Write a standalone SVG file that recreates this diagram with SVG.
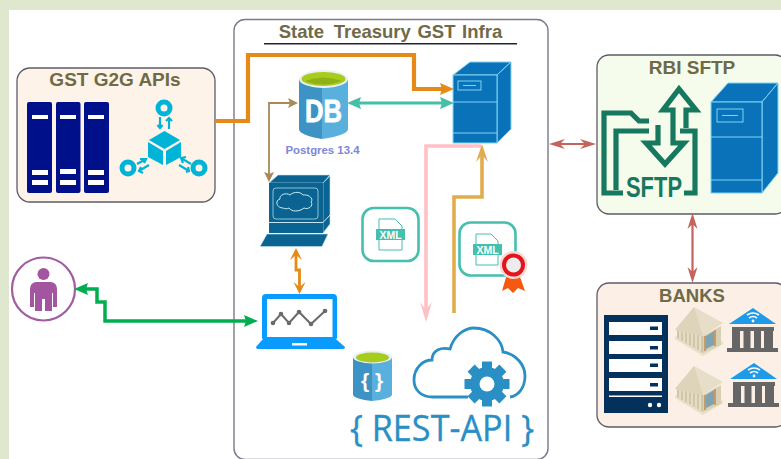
<svg xmlns="http://www.w3.org/2000/svg" xmlns:xlink="http://www.w3.org/1999/xlink" width="781" height="459" viewBox="0 0 781 459">
<style>
text{font-family:"Liberation Sans",Arial,sans-serif}
.box{stroke:#5c5c68;stroke-width:1.3}
.ttl{font-weight:bold;fill:#6f6a48;text-anchor:middle}
.conn{fill:none;stroke-linejoin:miter}
.srv{fill:#0a72b8;stroke:#7fd4f2;stroke-width:1}
.srvl{fill:none;stroke:#7fd4f2;stroke-width:1}
.xmlbox{fill:#fff;stroke:#45bfae;stroke-width:2.6}
.xt{font-weight:bold;fill:#fff;font-size:10.5px;text-anchor:middle}
</style>
<defs>
<marker id="mO" markerUnits="userSpaceOnUse" markerWidth="16" markerHeight="14" refX="7" refY="7" orient="auto-start-reverse"><path d="M1,1 L15,7 L1,13 L3,7z" fill="#e58a16"/></marker>
<marker id="mO2" markerUnits="userSpaceOnUse" markerWidth="14" markerHeight="14" refX="8" refY="7" orient="auto-start-reverse"><path d="M1,1 L13,7 L1,13 L6,7z" fill="#e58a16"/></marker>
<marker id="mT" markerUnits="userSpaceOnUse" markerWidth="16" markerHeight="14" refX="7" refY="7" orient="auto-start-reverse"><path d="M1,1 L15,7 L1,13 L3,7z" fill="#45bfa8"/></marker>
<marker id="mB" markerUnits="userSpaceOnUse" markerWidth="12" markerHeight="12" refX="6" refY="6" orient="auto-start-reverse"><path d="M1,1 L11,6 L1,11 L3,6z" fill="#a88a58"/></marker>
<marker id="mG" markerUnits="userSpaceOnUse" markerWidth="16" markerHeight="14" refX="7" refY="7" orient="auto-start-reverse"><path d="M1,1 L15,7 L1,13 L3,7z" fill="#00ae50"/></marker>
<marker id="mP" markerUnits="userSpaceOnUse" markerWidth="22" markerHeight="16" refX="9" refY="8" orient="auto"><path d="M1,2 L21,8 L1,14 L9,8z" fill="#ffc0c6"/></marker>
<marker id="mY" markerUnits="userSpaceOnUse" markerWidth="20" markerHeight="16" refX="9" refY="8" orient="auto"><path d="M1,2 L19,8 L1,14 L8,8z" fill="#e0ad4e"/></marker>
<marker id="mR" markerUnits="userSpaceOnUse" markerWidth="18" markerHeight="14" refX="10" refY="7" orient="auto-start-reverse"><path d="M1,2 L17,7 L1,12 L6,7z" fill="#c4625c"/></marker>
<g id="beige">
<path d="M675,339 L703,356 L723,344 V341 L703,352 L675,336z" fill="#e8e0c8"/>
<path d="M677,330 L703,336 V353 L677,338z" fill="#cfc5a6"/>
<path d="M680,331 v10 M684,332 v12 M688,333 v13 M692,334 v14 M696,335 v15 M700,336 v15" stroke="#e4dcc4" stroke-width="2.200" fill="none"/>
<path d="M703,336 L721,326 V345 L703,353z" fill="#d9cfb3"/>
<path d="M705,336 V351 M715,330 V346" stroke="#c99a66" stroke-width="2"/>
<path d="M706,336 L714,331 V345 L706,349z" fill="#7da4b0"/>
<path d="M694,307 L675,330 L703,336 L723,323z" fill="#e6dec8"/>
<path d="M694,307 L675,330 L703,336z" fill="#ddd4ba"/>
</g>
<g id="wifib">
<path d="M753,308 L776,324 H729z" fill="#1e9be8"/>
<path d="M747,315 q6,-4 12,0 M749,318 q4,-3 8,0" stroke="#fff" stroke-width="1.600" fill="none"/>
<circle cx="753" cy="321" r="1.400" fill="#fff"/>
<path d="M732,327 H774 V331 H732z M732,331 h8 v17 h-8z M743.500,331 h7 v17 h-7z M754,331 h7 v17 h-7z M764,331 h9 v17 h-9z M727,348 H778 V352 H727z" fill="#666"/>
</g>
</defs>
<rect width="781" height="459" fill="#fff"/>
<path d="M0,0 H781 V10 H9 V459 H0z" fill="#dfe8cf"/>

<g id="infra">
<rect x="234" y="19.500" width="314" height="440" rx="11" fill="#fff" stroke="#7a7a8a" stroke-width="1.400"/>
<text x="390.500" y="37.500" class="ttl" font-size="18.500" word-spacing="1.500">State <tspan dx="3">Treasury</tspan> GST Infra</text>
<rect x="264" y="43" width="253" height="1.500" fill="#22223a"/>
</g>

<g id="g2g">
<rect class="box" x="17" y="68" width="198" height="134" rx="13" fill="#fdf3e8"/>
<text x="115" y="86" class="ttl" font-size="19">GST G2G APIs</text>
<g fill="#000f8a">
<rect x="27" y="102" width="25" height="91" rx="2"/><rect x="56" y="102" width="24.500" height="91" rx="2"/><rect x="84" y="102" width="25" height="91" rx="2"/>
</g>
<path d="M32,115h16v4h-16z M32,170h16v5h-16z M32,180h16v5h-16z M60,115h16v4h-16z M60,169h16v5h-16z M60,180h16v5h-16z M88,115h16v4h-16z M88,170h16v5h-16z M88,180h16v5h-16z" fill="#fff"/>
<g fill="#00b4d8">
<path d="M148,142 L163,151 V165 L148,157z"/><path d="M181,142 L166,151 V165 L181,157z"/><path d="M164.500,131 L180,140 L164.500,149 L149,140z"/>
</g>
<g fill="none" stroke="#00b4d8" stroke-width="5">
<circle cx="164" cy="108" r="6"/><circle cx="128" cy="168" r="6"/><circle cx="199" cy="168" r="6"/>
<path d="M160,117 V128 M157.500,125 L160,128 L162.500,125 M169,129 V118 M166,121 L169,118 L172,121 M137,164 L146,159 M140,159 L146,159 L144,163 M139,171 L149,165 M141,167 L139,171 L143,173 M191,164 L181,158 M186,157 L181,158 L183,163 M189,171 L179,165 M186,172 L189,171 L188,167" stroke-width="2.200"/>
</g>
</g>

<g id="db">
<path d="M299,79 V129 Q299,135 322,139 V79z" fill="#3d93c4"/>
<path d="M348,79 V129 Q348,135 322,139 V79z" fill="#5ab0dc"/>
<ellipse cx="323.500" cy="79" rx="24.500" ry="9" fill="#e8f2f8"/>
<ellipse cx="323.500" cy="79" rx="22" ry="7" fill="#a8cc1c"/>
<path d="M305,81 Q323,74 342,81 Q323,88 305,81z" fill="#8fb016"/>
<text x="323.500" y="122" font-size="31" font-weight="bold" fill="#fff" stroke="#fff" stroke-width=".8" text-anchor="middle" textLength="37" lengthAdjust="spacingAndGlyphs">DB</text>
<text x="322.500" y="154" font-size="11.400" font-weight="bold" fill="#7d87d8" text-anchor="middle">Postgres 13.4</text>
</g>

<g id="server">
<path class="srv" d="M453,75 L470,62 H511 L497,75z"/>
<path class="srv" d="M497,75 L511,62 V129 L497,143z"/>
<rect class="srv" x="453" y="75" width="44" height="68"/>
<path class="srvl" d="M453,102 H497 M453,133 H497 M463,85.500 H476"/>
<rect class="srvl" x="458" y="81" width="23" height="9"/>
</g>

<g id="computer">
<path d="M269,183 L278,175 H330 L323,183z" fill="#0b6391" stroke="#bfe6f4" stroke-width=".6"/>
<path d="M323,183 L330,176 V224 L323,233z" fill="#0b6391" stroke="#bfe6f4" stroke-width=".6"/>
<rect x="269" y="183" width="54" height="50" fill="#0b6391"/>
<rect x="273" y="188" width="45" height="31" rx="3" fill="none" stroke="#a8dcec" stroke-width=".8"/>
<path d="M283,208 C276,208 275,200 280,199 C279,195 286,192 290,195 C294,191 301,192 303,195 C309,194 314,199 311,202 C314,206 308,210 304,208 C299,212 292,212 289,208 C287,209 285,209 283,208z" fill="none" stroke="#c8ecf6" stroke-width="1"/>
<path d="M269,222.500 H323 L330,215" fill="none" stroke="#bfe6f4" stroke-width="1"/>
<path d="M267,234 H328 L322,246.500 H260z" fill="#0b6391" stroke="#bfe6f4" stroke-width=".6"/>
</g>

<g id="xml1">
<rect class="xmlbox" x="362.500" y="208" width="56" height="53" rx="11"/>
<path d="M379,219 H395 L402,226 V250 H379z" fill="#fff" stroke="#45bfae" stroke-width="1"/>
<rect x="376" y="229" width="29" height="11" fill="#45bfae"/>
<text x="390.500" y="238.500" class="xt">XML</text>
</g>

<g id="xml2">
<rect class="xmlbox" x="459.500" y="222.500" width="56" height="53" rx="11"/>
<path d="M476,234 H491 L498,241 V265 H476z" fill="#fff" stroke="#45bfae" stroke-width="1"/>
<rect x="473" y="244" width="29" height="11" fill="#45bfae"/>
<text x="487.500" y="253.500" class="xt">XML</text>
<path d="M507,274 L502,291 L508,288 L513,293 L518,288 L525,291 L519,274z" fill="#f4590f"/>
<circle cx="513.500" cy="265" r="14" fill="#f7d8d4"/>
<circle cx="513.500" cy="265" r="11.500" fill="#e3141c"/>
<circle cx="513.500" cy="265" r="7.500" fill="#ececec"/>
</g>

<g id="laptop">
<rect x="262" y="294" width="75" height="47" rx="4" fill="#0a9bff"/>
<rect x="267" y="299" width="65.500" height="38" fill="#fff"/>
<path d="M256,347 L262,340 H337 L345,347 Q345,349 342,349 H259 Q256,349 256,347z" fill="#0a9bff"/>
<rect x="292" y="343" width="15" height="2.500" fill="#fff"/>
<path d="M273,323 L281,314 L289,323 L299,312 L311,324 L325,311" fill="none" stroke="#6a6a6a" stroke-width="2"/>
<g fill="#6a6a6a"><circle cx="273" cy="323" r="2.300"/><circle cx="281" cy="314" r="2.300"/><circle cx="289" cy="323" r="2.300"/><circle cx="299" cy="312" r="2.300"/><circle cx="311" cy="324" r="2.300"/><circle cx="325" cy="311" r="2.300"/></g>
</g>

<g id="user">
<circle cx="43.500" cy="289" r="31.500" fill="#fff" stroke="#a25ca2" stroke-width="2.200"/>
<circle cx="43.500" cy="274" r="6" fill="#a4559f"/>
<path d="M36,282 H51 Q57,283 57,289 V307 H53 V293 H52 V311 H45 V299 H42 V311 H35 V293 H34 V307 H30 V289 Q30,283 36,282z" fill="#a4559f"/>
</g>

<g id="rest">
<path d="M353,357 V395 Q355,399 372,401 V357z" fill="#3d93c4"/>
<path d="M392,357 V395 Q390,399 372,401 V357z" fill="#5ab0dc"/>
<ellipse cx="372.500" cy="357" rx="19.500" ry="6.500" fill="#e8f2f8"/>
<ellipse cx="372.500" cy="357.500" rx="16.500" ry="5" fill="#a8cc1c"/>
<text x="372" y="388" font-size="21" font-weight="bold" fill="#fff" text-anchor="middle">{ }</text>
<path d="M468,397 H433 C420,397 414,389 414,380 C414,368 423,360 432,360 C432,350 441,347 450,349 C454,335 465,328 474,328 C490,328 502,340 503,352 C517,354 525,366 525,376 C525,388 518,396 510,397" fill="none" stroke="#2a8fc4" stroke-width="2.800"/>
<g fill="#2a8fc4">
<circle cx="487" cy="384" r="17"/>
<g id="teeth"><rect x="482" y="361.500" width="10" height="45"/><rect x="464.500" y="379" width="45" height="10"/>
<rect x="482" y="361.500" width="10" height="45" transform="rotate(45 487 384)"/><rect x="482" y="361.500" width="10" height="45" transform="rotate(-45 487 384)"/></g>
</g>
<circle cx="487" cy="384" r="7.500" fill="#fff"/>
<text x="442" y="441" font-size="37" fill="#2a8fc4" stroke="#2a8fc4" stroke-width=".35" text-anchor="middle" style="font-family:'Open Sans','Noto Sans',sans-serif" textLength="184" lengthAdjust="spacingAndGlyphs">{ REST-API }</text>
</g>

<g id="rbi">
<rect class="box" x="597" y="55" width="190" height="159" rx="12" fill="#f6fcec"/>
<text x="692" y="74" class="ttl" font-size="19">RBI SFTP</text>
<g fill="none" stroke="#16785e" stroke-width="5.200">
<path d="M649,121 H639 L631,113 H604 V193 H623"/>
<path d="M649,131 H616 V190"/>
<path d="M680,131 H695 V193 H684"/>
<path d="M658,125 V143 H646 L665,164 L684,143 H673 V110 H663 L679,89 L696,110 H686 V128"/>
</g>
<text x="654" y="197" font-size="30" font-weight="bold" fill="#16785e" text-anchor="middle" textLength="56" lengthAdjust="spacingAndGlyphs">SFTP</text>
<path class="srv" d="M711,102 L728,83 H778 L762,102z"/>
<path class="srv" d="M762,102 L778,83 V173 L762,193z"/>
<rect class="srv" x="711" y="102" width="51" height="91"/>
<path class="srvl" d="M711,137 H762 M711,180 H762 M722,115.500 H738"/>
<rect class="srvl" x="717" y="109" width="26" height="13"/>
</g>

<g id="banks">
<rect class="box" x="597" y="283" width="190" height="144" rx="12" fill="#fcefe6"/>
<text x="692" y="302" class="ttl" font-size="18.500">BANKS</text>
<rect x="604" y="315" width="64" height="98" fill="#04305c"/>
<g fill="#fff"><rect x="609" y="322" width="53" height="13"/><rect x="609" y="341" width="53" height="13"/><rect x="609" y="359" width="53" height="13"/><rect x="609" y="378" width="53" height="13"/><rect x="609" y="395.500" width="53" height="1.500"/><circle cx="650" cy="405" r="2.200"/><circle cx="659" cy="405" r="2.200"/></g>
<g fill="#04305c"><rect x="650" y="326.500" width="8" height="3.500"/><rect x="650" y="346" width="8" height="3.500"/><rect x="650" y="363.500" width="8" height="3.500"/><rect x="650" y="383" width="8" height="3.500"/></g>
<use xlink:href="#beige" href="#beige"/>
<use xlink:href="#beige" href="#beige" y="59"/>
<use xlink:href="#wifib" href="#wifib"/>
<use xlink:href="#wifib" href="#wifib" x="1" y="55"/>
</g>

<g id="connectors">
<path class="conn" stroke="#ffc0c6" stroke-width="3.600" d="M481,146 H426 V310" marker-end="url(#mP)"/>
<path class="conn" stroke="#e0ad4e" stroke-width="3.600" d="M454,313 V197 H482 V154" marker-end="url(#mY)"/>
<path class="conn" stroke="#e58a16" stroke-width="4.200" d="M215,121 H248 V55 H414 V89 H446" marker-end="url(#mO)"/>
<path class="conn" stroke="#45bfa8" stroke-width="2.800" d="M355,103 H446" marker-start="url(#mT)" marker-end="url(#mT)"/>
<path class="conn" stroke="#a88a58" stroke-width="1.800" d="M293,103 H269 V177" marker-start="url(#mB)" marker-end="url(#mB)"/>
<path class="conn" stroke="#e58a16" stroke-width="2.800" d="M296,253 V270 H299.500 V289" marker-start="url(#mO2)" marker-end="url(#mO2)"/>
<path class="conn" stroke="#00ae50" stroke-width="3.500" d="M82,289 H97 V302 H105 V321 H250" marker-start="url(#mG)" marker-end="url(#mG)"/>
<path class="conn" stroke="#c4625c" stroke-width="1.800" d="M556,144 H589" marker-start="url(#mR)" marker-end="url(#mR)"/>
<path class="conn" stroke="#c4625c" stroke-width="2.200" d="M692.500,220 V276" marker-start="url(#mR)" marker-end="url(#mR)"/>
</g>
</svg>
